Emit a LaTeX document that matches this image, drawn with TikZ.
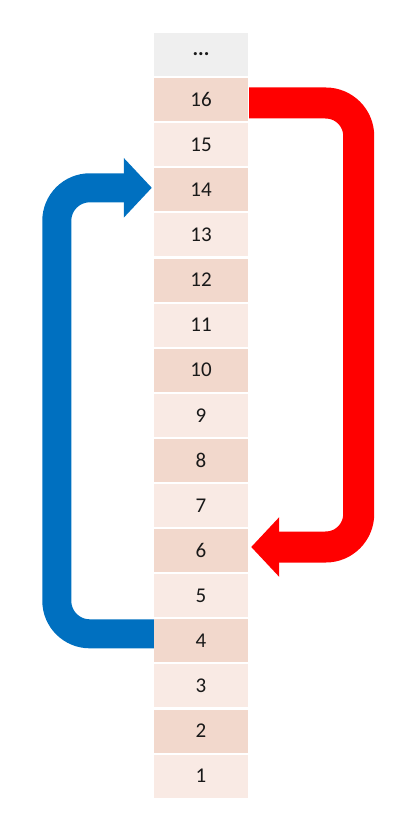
\documentclass[tikz,border=0pt]{standalone}
\usepackage{fontspec}
\setmainfont{Carlito}
\usetikzlibrary{arrows.meta}
\definecolor{rowdark}{HTML}{F2D8CC}
\definecolor{rowlight}{HTML}{F9EAE4}
\definecolor{rowgray}{HTML}{EFEFEF}
\definecolor{arrred}{HTML}{FF0000}
\definecolor{arrblue}{HTML}{0070C0}
\begin{document}
\begin{tikzpicture}[x=1pt,y=-1pt,
  cell/.style={minimum width=94pt,minimum height=43pt,inner sep=0pt,
    font=\fontsize{21}{22}\selectfont, text=black!90},
  bigarrow/.style={rounded corners=33pt,
    -{Triangle[length=28pt,width=58pt]}}]
\useasboundingbox (0,0) rectangle (415,818);
\node[cell,fill=rowgray] (rdots) at (201,54.5) {\textbf{...}};
\foreach \n [count=\i] in {16,...,1}{
  \pgfmathsetmacro{\yy}{54.5+\i*45.1}
  \pgfmathtruncatemacro{\rowpar}{mod(\n,2)}
  \ifnum\rowpar=0
    \node[cell,fill=rowdark] (r\n) at (201,\yy) {\n};
  \else
    \node[cell,fill=rowlight] (r\n) at (201,\yy) {\n};
  \fi
}
\draw[bigarrow,line width=31pt,arrred] ([xshift=1pt,yshift=-3.4pt]r16.east) -- ++(109.5,0) |- ([xshift=3pt,yshift=3.6pt]r6.east);
\draw[bigarrow,line width=29pt,arrblue] ([yshift=7pt]r4.west) -- ++(-97,0) |- ([xshift=-2pt,yshift=2pt]r14.west);
\end{tikzpicture}
\end{document}
